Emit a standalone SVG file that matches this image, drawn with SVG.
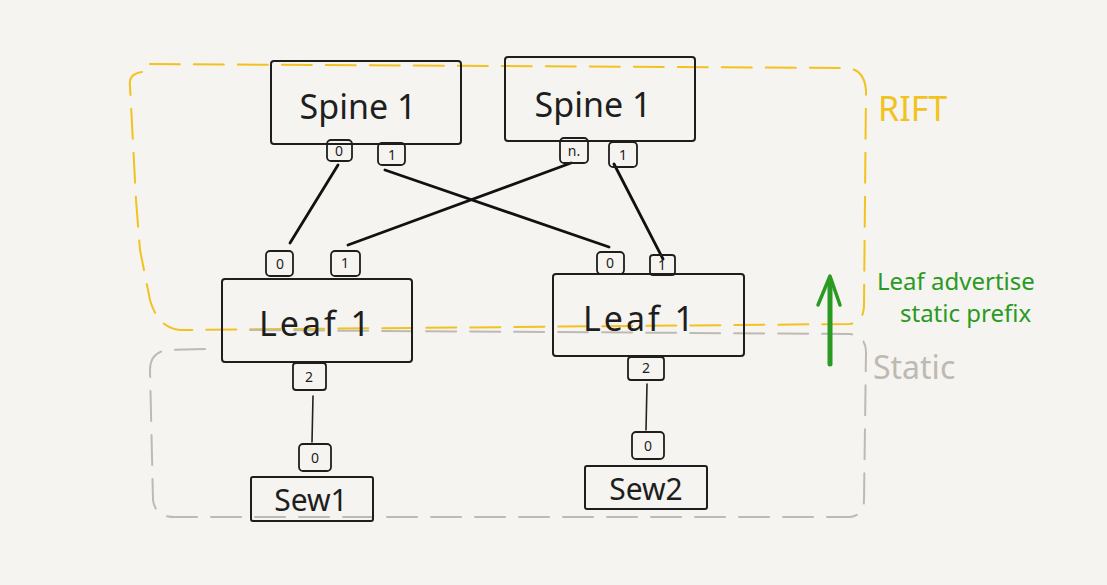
<svg xmlns="http://www.w3.org/2000/svg" width="1107" height="585" viewBox="0 0 1107 585">
<style>
.bg{fill:#f5f4f0}
.node{fill:none;stroke:#1e1e1e;stroke-width:2;stroke-linejoin:round}
.port{fill:none;stroke:#1e1e1e;stroke-width:1.8}
.lbl{font-family:"Noto Sans","Liberation Sans",sans-serif;fill:#1e1e1e;text-anchor:middle}
.big{font-size:34px}
.pt{font-size:14px}
.conn{stroke:#111;stroke-width:2.8;stroke-linecap:round;fill:none}
.thin{stroke:#222;stroke-width:1.6}
.rift{fill:none;stroke:#f2c21f;stroke-width:2;stroke-dasharray:30 14;stroke-linecap:round}
.stat{fill:none;stroke:#bdbab3;stroke-width:2;stroke-dasharray:30 14;stroke-linecap:round}
</style>
<rect class="bg" x="0" y="0" width="1107" height="585"/>
<g id="regions">
<path class="rift" d="M142,72 Q128,74 130,86 L136,200 L140,250 L150,300 Q158,328 180,330 L850,324 Q864,322 864,305 L866,90 Q864,68 845,68 L140,64"/>
<path class="stat" d="M205,349 L168,350 Q150,352 150,370 L153,500 Q155,517 175,517 L850,517 Q864,515 864,500 L866,352 Q866,336 850,334 L240,330"/>
<text x="878" y="121" font-family="Noto Sans, Liberation Sans, sans-serif" font-size="34" fill="#f2c21f">RIFT</text>
<text x="873" y="379" font-family="Noto Sans, Liberation Sans, sans-serif" font-size="32" fill="#bdbab3">Static</text>
</g>
<g id="connectors">
<line class="conn" x1="338" y1="165" x2="290" y2="243"/>
<line class="conn" x1="385" y1="170" x2="609" y2="247"/>
<line class="conn" x1="571" y1="163" x2="348" y2="245"/>
<line class="conn" x1="614" y1="164" x2="663" y2="259"/>
<line class="conn thin" x1="313" y1="396" x2="312" y2="442"/>
<line class="conn thin" x1="647" y1="384" x2="646" y2="430"/>
</g>
<g id="spine-left">
<rect class="node" x="271" y="61" width="190" height="83" rx="3"/>
<text class="lbl big" x="358" y="119">Spine 1</text>
<rect class="port" x="327" y="140" width="25" height="21" rx="4"/>
<text class="lbl pt" x="339" y="156">0</text>
<rect class="port" x="378" y="143" width="27" height="22" rx="4"/>
<text class="lbl pt" x="392" y="160">1</text>
</g>
<g id="spine-right">
<rect class="node" x="505" y="57" width="190" height="84" rx="3"/>
<text class="lbl big" x="593" y="117">Spine 1</text>
<rect class="port" x="560" y="138" width="28" height="25" rx="4"/>
<text class="lbl pt" x="574" y="156">n.</text>
<rect class="port" x="609" y="142" width="28" height="25" rx="4"/>
<text class="lbl pt" x="623" y="160">1</text>
</g>
<g id="leaf-left">
<rect class="node" x="222" y="279" width="190" height="83" rx="3"/>
<text class="lbl big" x="316" y="336" letter-spacing="3">Leaf 1</text>
<rect class="port" x="266" y="251" width="27" height="25" rx="4"/>
<text class="lbl pt" x="280" y="269" font-size="18">0</text>
<rect class="port" x="331" y="251" width="29" height="25" rx="4"/>
<text class="lbl pt" x="345" y="268">1</text>
<rect class="port" x="293" y="363" width="33" height="27" rx="3"/>
<text class="lbl pt" x="309" y="382">2</text>
</g>
<g id="leaf-right">
<rect class="node" x="553" y="274" width="191" height="82" rx="3"/>
<text class="lbl big" x="640" y="331" letter-spacing="3">Leaf 1</text>
<rect class="port" x="597" y="252" width="27" height="22" rx="4"/>
<text class="lbl pt" x="610" y="268">0</text>
<rect class="port" x="650" y="255" width="25" height="20" rx="3"/>
<text class="lbl pt" x="662" y="270">1</text>
<rect class="port" x="628" y="357" width="36" height="23" rx="3"/>
<text class="lbl pt" x="646" y="373">2</text>
</g>
<g id="server1">
<rect class="node" x="251" y="477" width="122" height="44" rx="2"/>
<text class="lbl" x="311" y="511" font-size="30">Sew1</text>
<rect class="port" x="299" y="444" width="32" height="27" rx="4"/>
<text class="lbl pt" x="315" y="463">0</text>
</g>
<g id="server2">
<rect class="node" x="585" y="466" width="122" height="43" rx="2"/>
<text class="lbl" x="646" y="500" font-size="30">Sew2</text>
<rect class="port" x="632" y="432" width="32" height="27" rx="4"/>
<text class="lbl pt" x="648" y="451">0</text>
</g>
<g id="annotation">
<line x1="830" y1="364" x2="830" y2="282" stroke="#2a9a22" stroke-width="5" stroke-linecap="round"/>
<path d="M818,305 L830,276 L840,305" fill="none" stroke="#2a9a22" stroke-width="3.5" stroke-linecap="round" stroke-linejoin="round"/>
<text x="877" y="290" font-family="Noto Sans, Liberation Sans, sans-serif" font-size="24" fill="#2a9a22">Leaf advertise</text>
<text x="900" y="322" font-family="Noto Sans, Liberation Sans, sans-serif" font-size="24" fill="#2a9a22">static prefix</text>
</g>
</svg>
